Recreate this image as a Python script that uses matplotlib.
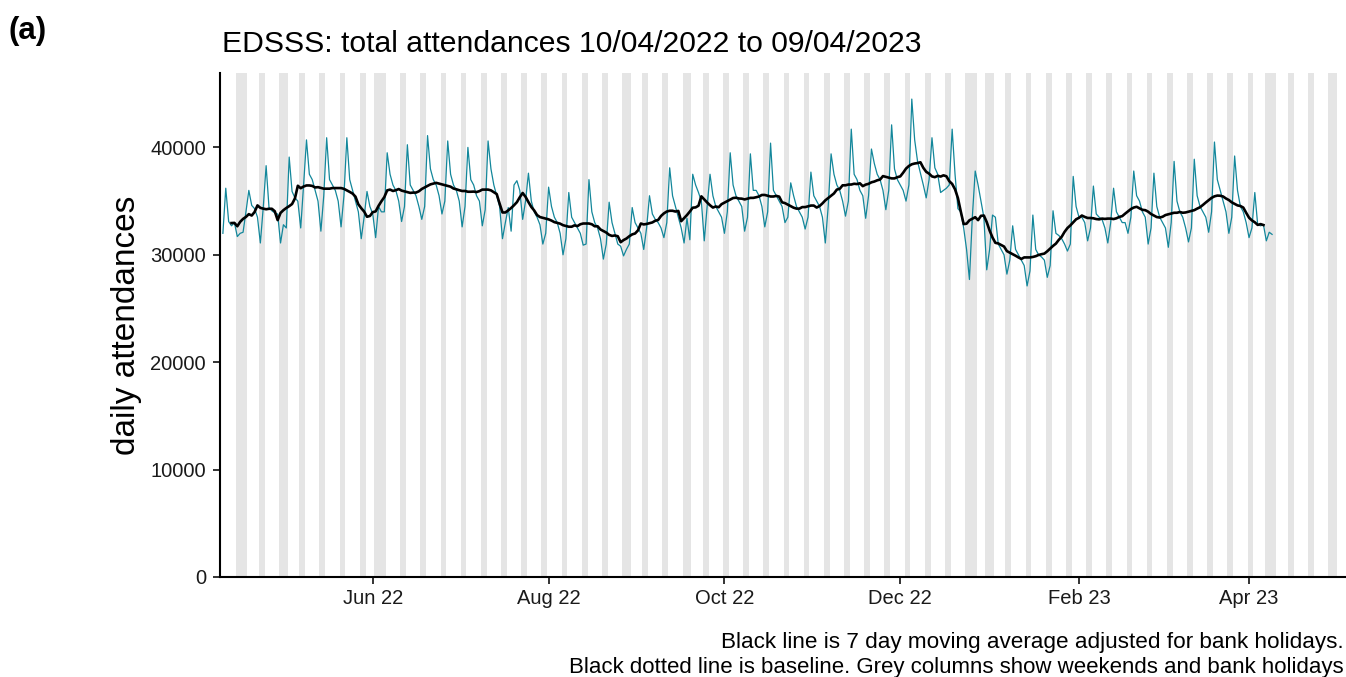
import matplotlib
matplotlib.use("Agg")
import matplotlib.pyplot as plt
import matplotlib.dates as mdates
import pandas as pd

# daily EDSSS attendances, 10/04/2022 (Sun) to 09/04/2023 (Sun), one row per Mon-Sun week
counts_spring22 = [
    32000,                                            # Sun 10 Apr
    36200, 33100, 32700, 33000, 31700, 32000, 32100,  # 11 Apr
    34000, 36000, 34600, 34300, 33500, 31100, 34400,  # 18 Apr
    38300, 34400, 34100, 33900, 33800, 31100, 32800,  # 25 Apr
    32500, 39100, 35900, 35300, 35000, 32500, 36500,  # 2 May
    40700, 37500, 37000, 36000, 35000, 32200, 35500,  # 9 May
    40900, 37000, 36500, 36000, 35000, 32600, 35500,  # 16 May
    40900, 37000, 36000, 35000, 34000, 31500, 33500,  # 23 May
    35900, 34500, 33800, 31600, 34500, 34000, 34000,  # 30 May
    39500, 37500, 36500, 36000, 35000, 33100, 34500,  # 6 Jun
    40250, 36500, 36000, 35500, 34500, 33300, 34500,  # 13 Jun
    41100, 38000, 37000, 36500, 35500, 33800, 35000,  # 20 Jun
    40600, 37500, 36500, 36000, 35000, 32600, 34500,  # 27 Jun
    40000, 37000, 36500, 35500, 35000, 32700, 34200,  # 4 Jul
]
counts_summer22 = [
    40600, 38000, 36500, 35500, 34500, 31500, 33000,  # 11 Jul
    34400, 32200, 36500, 36900, 36000, 33300, 35000,  # 18 Jul
    37600, 35000, 34000, 33500, 32800, 31000, 32000,  # 25 Jul
    36300, 34500, 33500, 33000, 32000, 30000, 31500,  # 1 Aug
    35800, 33500, 33000, 32500, 32000, 30900, 31000,  # 8 Aug
    37000, 34000, 33000, 32500, 31500, 29600, 31000,  # 15 Aug
    34900, 33000, 32000, 31000, 30800, 29900, 30500,  # 22 Aug
    31000, 34400, 33000, 32500, 32000, 30500, 32500,  # 29 Aug
    35500, 33800, 33300, 33000, 32500, 31600, 33000,  # 5 Sep
    38100, 35500, 34500, 33500, 32500, 31100, 33400,  # 12 Sep
    31400, 37500, 36500, 35800, 35000, 31300, 34500,  # 19 Sep
    37500, 35500, 34500, 34000, 33500, 32000, 34000,  # 26 Sep
    39500, 36500, 35500, 35000, 34500, 32200, 33500,  # 3 Oct
]
counts_autumn22 = [
    39400, 36000, 36000, 35500, 34500, 32600, 34000,  # 10 Oct
    40400, 36000, 35500, 35000, 34500, 33000, 33500,  # 17 Oct
    36700, 35500, 34500, 34000, 33500, 32400, 33500,  # 24 Oct
    37700, 35500, 35000, 34500, 33500, 31100, 34500,  # 31 Oct
    39400, 37500, 36500, 36000, 35000, 33600, 35000,  # 7 Nov
    41700, 37500, 37000, 36000, 35500, 33400, 35500,  # 14 Nov
    39850, 38500, 37500, 37000, 36000, 34200, 36000,  # 21 Nov
    42100, 38000, 37000, 36500, 36000, 35000, 36500,  # 28 Nov
    44500, 40700, 38700, 37600, 36500, 35300, 37000,  # 5 Dec
    40900, 38100, 37500, 35800, 36000, 36200, 36500,  # 12 Dec
    41700, 37500, 34300, 34000, 32500, 30500, 27700,  # 19 Dec
    33500, 37800, 36500, 35000, 33500, 28600, 30500,  # 26 Dec
    33700, 33500, 31000, 30500, 30000, 28200, 29500,  # 2 Jan
]
counts_winter23 = [
    32700, 30500, 30000, 29500, 29000, 27100, 28500,  # 9 Jan
    33700, 30500, 30000, 29800, 29500, 27900, 29000,  # 16 Jan
    34100, 32000, 31800, 31500, 31000, 30350, 31000,  # 23 Jan
    37300, 34500, 33500, 33500, 33000, 31300, 32500,  # 30 Jan
    36400, 33800, 33500, 33300, 32500, 31100, 33000,  # 6 Feb
    36200, 34000, 33500, 33000, 33000, 32000, 33500,  # 13 Feb
    37800, 35500, 35000, 34000, 33500, 31000, 32500,  # 20 Feb
    37600, 34500, 33500, 33000, 32500, 30700, 33000,  # 27 Feb
    38700, 35000, 34000, 33500, 32500, 31200, 32500,  # 6 Mar
    38900, 35500, 34500, 34000, 33500, 32100, 34000,  # 13 Mar
    40500, 37000, 36000, 35000, 34000, 32000, 33500,  # 20 Mar
    39200, 36000, 34500, 34000, 33000, 31600, 32500,  # 27 Mar
    35800, 32800, 32700, 32800, 31300, 32100, 31900,  # 3 Apr
]

bank_holidays = ["2022-04-15", "2022-04-18", "2022-05-02", "2022-06-02", "2022-06-03",
                 "2022-08-29", "2022-09-19", "2022-12-26", "2022-12-27", "2023-01-02",
                 "2023-04-07", "2023-04-10", "2023-05-01"]

title = "EDSSS: total attendances 10/04/2022 to 09/04/2023"
caption1 = "Black line is 7 day moving average adjusted for bank holidays."
caption2 = "Black dotted line is baseline. Grey columns show weekends and bank holidays"

W, H = 1346, 677
plt.rcParams["font.family"] = ["Liberation Sans", "DejaVu Sans"]

counts = counts_spring22 + counts_summer22 + counts_autumn22 + counts_winter23
dates = pd.date_range("2022-04-10", periods=len(counts), freq="D")
daily = pd.Series(counts, index=dates, dtype=float)
smooth = daily.rolling(7, center=True).mean()

bh = pd.to_datetime(bank_holidays)
shade_range = pd.date_range("2022-04-11", "2023-05-01", freq="D")
shade_days = [d for d in shade_range if d.weekday() >= 5 or d in bh]

YTOP = 46900

fig = plt.figure(figsize=(W / 100, H / 100), dpi=100)
ax = fig.add_axes([220 / W, 100 / H, 1125 / W, 503.7 / H])

ax.bar(shade_days, YTOP, width=1.0, color="#e5e5e5", linewidth=0, zorder=0)
ax.plot(daily.index, daily.values, color="#13879b", lw=0.9, zorder=2)
ax.plot(smooth.index, smooth.values, color="black", lw=1.9, zorder=3)

ax.set_xlim(pd.Timestamp("2022-04-09"), pd.Timestamp("2023-05-04 07:00"))
ax.set_ylim(0, YTOP)
ax.set_yticks([0, 10000, 20000, 30000, 40000])
ax.xaxis.set_major_locator(mdates.MonthLocator(bymonth=[2, 4, 6, 8, 10, 12]))
ax.xaxis.set_major_formatter(mdates.DateFormatter("%b %y"))

for s in ["top", "right"]:
    ax.spines[s].set_visible(False)
for s in ["left", "bottom"]:
    ax.spines[s].set_linewidth(1.5)
    ax.spines[s].set_color("black")
ax.tick_params(axis="both", length=5, width=1.4, color="#333333",
               labelsize=14.5, labelcolor="#1a1a1a")
ax.tick_params(axis="y", pad=5)
ax.tick_params(axis="x", pad=4)

fig.text(8 / W, 1 - 39 / H, "(a)", fontsize=22.5, fontweight="bold", va="baseline", ha="left")
fig.text(222 / W, 1 - 52 / H, title, fontsize=21.7, va="baseline", ha="left")
fig.text(127 / W, 1 - 325 / H, "daily attendances", fontsize=24, rotation=90,
         va="center", ha="center")
fig.text(1344 / W, 1 - 648 / H, caption1, fontsize=16.2, va="baseline", ha="right")
fig.text(1344 / W, 1 - 673 / H, caption2, fontsize=16.0, va="baseline", ha="right")

fig.savefig("out.png", dpi=100)
